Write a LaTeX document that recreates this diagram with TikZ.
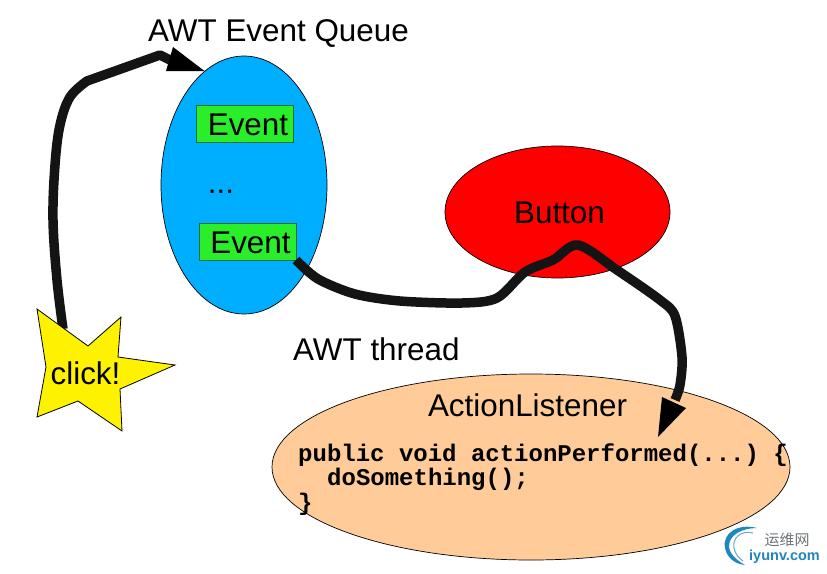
\documentclass[tikz,border=0pt]{standalone}
\usepackage{fontspec}
\setmainfont{Liberation Sans}
\setmonofont{Liberation Mono}
\newfontfamily\cjkwm{Noto Sans CJK SC}
\usetikzlibrary{shapes.geometric}
\definecolor{queueblue}{HTML}{00AEFF}
\definecolor{evgreen}{HTML}{2BEE2B}
\definecolor{evedge}{HTML}{0B6B3A}
\definecolor{listener}{HTML}{FFCC99}
\definecolor{wmblue}{HTML}{1F86BE}
\definecolor{wmgray}{HTML}{6E7478}
\tikzset{
  blob/.style={ellipse,draw=black,line width=.7pt,inner sep=0pt,outer sep=0pt},
  evbox/.style={draw=evedge,fill=evgreen,line width=.8pt,minimum width=97pt,minimum height=37pt,inner sep=0pt,outer sep=0pt},
  label/.style={inner sep=0pt,font=\fontsize{31.4}{31.4}\selectfont},
  codeline/.style={inner sep=0pt,anchor=base west,font=\ttfamily\bfseries\fontsize{24}{24}\selectfont},
  flow/.style={draw=black!92,line width=9.5pt,line join=round},
  flowhead/.style={fill=black}
}
\begin{document}
\begin{tikzpicture}[x=1pt,y=-1pt]
\useasboundingbox (0,0) rectangle (827,573);
\fill[white] (0,0) rectangle (827,573);

\node[label,anchor=west] (qtitle) at (148,34) {AWT Event Queue};

% ellipses
\node[blob,fill=queueblue,minimum width=166pt,minimum height=258pt] (queue) at (244,185) {};
\node[blob,fill=red,minimum width=225pt,minimum height=132pt] (button) at (557.5,212) {};
\node[blob,fill=listener,minimum width=518pt,minimum height=186pt] (listen) at (531,467) {};

% event boxes
\node[evbox] (ev1) at (244.5,123.5) {};
\node[label,anchor=center] (ev1t) at (248,124.5) {Event};
\node[evbox] (ev2) at (247.5,241.5) {};
\node[label,anchor=center] (ev2t) at (250.5,242.5) {Event};
\node[label,anchor=center,text=black] (dots) at (221,192) {...};

\node[label,anchor=center] (btnt) at (559.5,212.5) {Button};
\node[label,anchor=west] (thr) at (293,349) {AWT thread};
\node[label,anchor=center] (alt) at (527.5,405) {ActionListener};

\node[codeline] (c1) at (298,461) {public void actionPerformed(...) \{};
\node[codeline] (c2) at (327,485) {doSomething();};
\node[codeline] (c3) at (298,510) {\}};

% connectors
\coordinate (clickout) at (63,329);
\coordinate (qbase) at (170,60);
\coordinate (qa) at (173,47);
\coordinate (qb) at (166,71);
\coordinate (queuein) at (204.5,71);
\coordinate (lbase) at (675,400);
\coordinate (la) at (662,397);
\coordinate (lb) at (686,408);
\coordinate (listenin) at (658,437);

\draw[flow] plot[smooth,tension=.6] coordinates {
  (clickout) (57,280) (53,220) (55,165) (60,125) (70,97) (87,81)} -- (160,55) -- (qbase);
\fill[flowhead] (qa) -- (queuein) -- (qb) -- cycle;

\draw[flow] plot[smooth,tension=.5] coordinates {
  (ev2.south east) (318,279) (355,294) (400,301) (462,303) (497,298) (525,272) (553,260) (578,245)
  (617,270) (660,300) (675,316) (682,357) (680,385) (lbase)};
\fill[flowhead] (la) -- (lb) -- (listenin) -- cycle;

% star
\draw[draw=black,line width=.8pt,fill=yellow,line join=miter]
  (37,309) -- (88,346) -- (121,317) -- (118,357) -- (175,365) -- (120,389)
  -- (122,431) -- (78,401) -- (37,417) -- (46,367) -- cycle;
\node[label,anchor=center] (clickt) at (85.5,373) {click!};

% watermark
\fill[wmblue] (757,528) .. controls (738,523) and (722,533) .. (725,548)
  .. controls (727,558) and (735,564) .. (745,565)
  .. controls (736,560) and (729,553) .. (729,546)
  .. controls (729,535) and (742,528) .. (757,528) -- cycle;
\draw[wmblue!70,line width=1pt] (753,533) .. controls (741,530) and (732,538) .. (734,548) .. controls (735,554) and (739,558) .. (743,561);
\node[inner sep=0pt,text=wmgray,font=\cjkwm\fontsize{15}{15}\selectfont] (wm1) at (787,540) {运维网};
\node[inner sep=0pt,text=wmblue,font=\bfseries\fontsize{14.5}{15}\selectfont] (wm2) at (784.5,557) {iyunv.com};
\end{tikzpicture}
\end{document}
